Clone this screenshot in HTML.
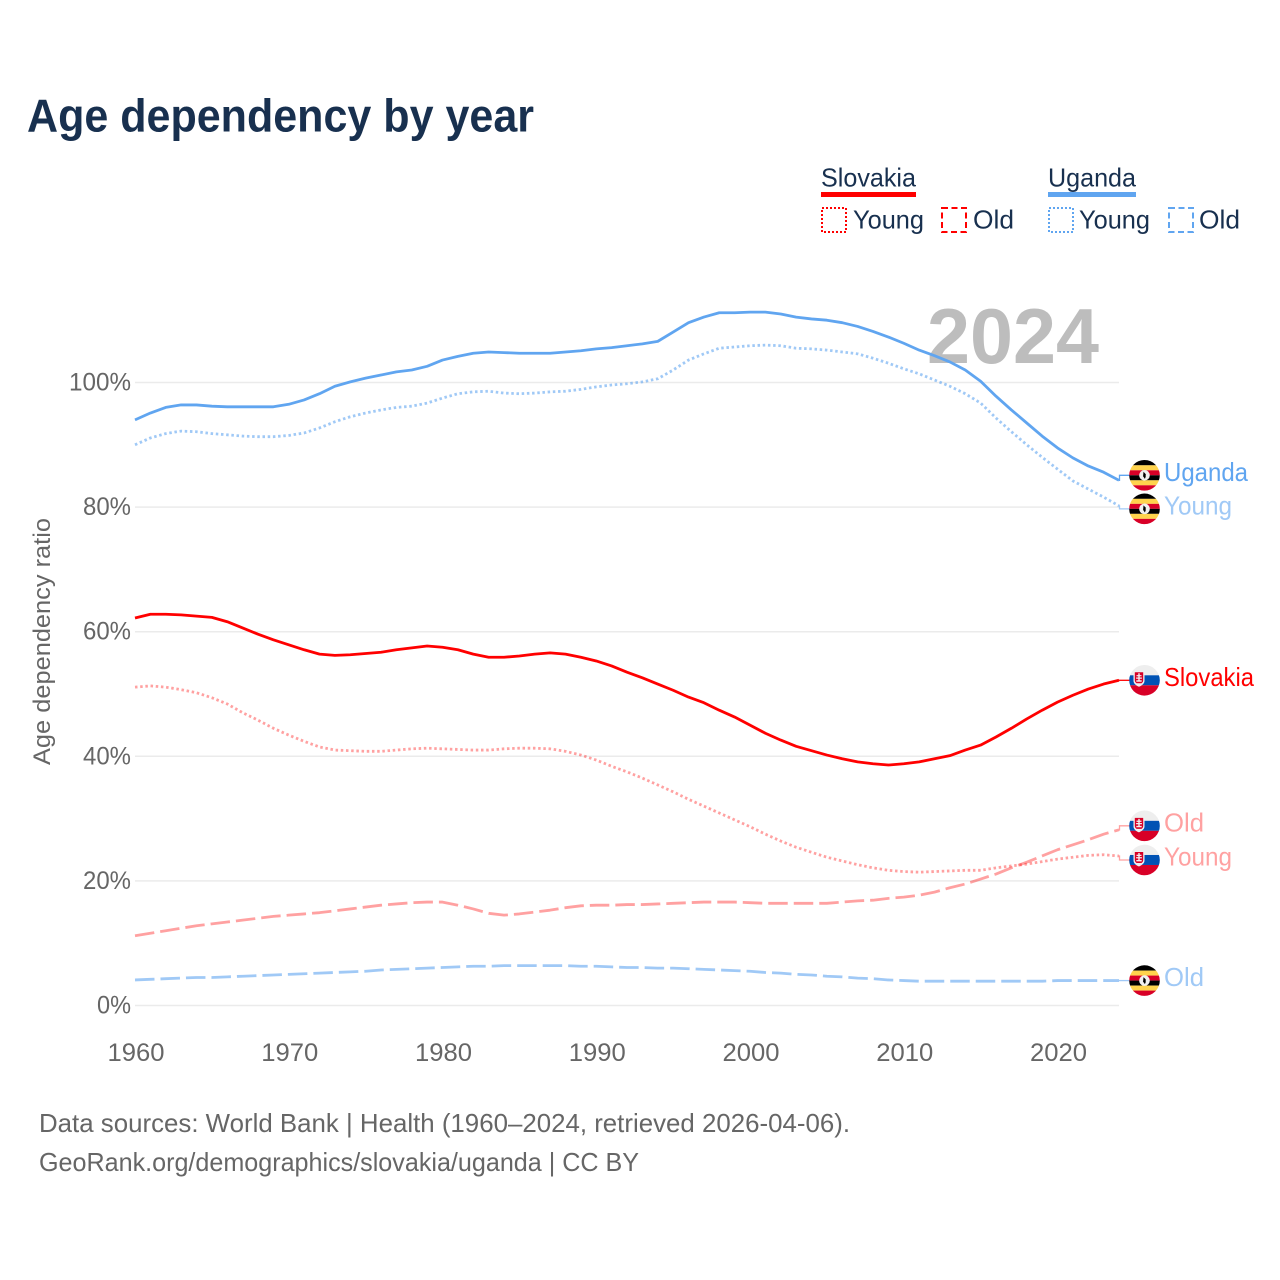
<!DOCTYPE html>
<html lang="en">
<head>
<meta charset="utf-8">
<title>Age dependency by year</title>
<style>
html,body{margin:0;padding:0;background:#fff;width:1280px;height:1280px;overflow:hidden}
svg{display:block}
text{font-family:"Liberation Sans",sans-serif}
</style>
</head>
<body>
<svg id="chart" xmlns="http://www.w3.org/2000/svg" width="1280" height="1280" viewBox="0 0 1280 1280">
  <defs>
    <clipPath id="flag-clip"><circle cx="0" cy="0" r="15.3"/></clipPath>
    <g id="flag-uganda">
      <g clip-path="url(#flag-clip)">
        <rect x="-16" y="-16" width="32" height="6" fill="#000"/>
        <rect x="-16" y="-10" width="32" height="5" fill="#ffd34d"/>
        <rect x="-16" y="-5" width="32" height="5" fill="#d80027"/>
        <rect x="-16" y="0" width="32" height="5" fill="#000"/>
        <rect x="-16" y="5" width="32" height="5" fill="#ffd34d"/>
        <rect x="-16" y="10" width="32" height="6" fill="#d80027"/>
        <circle cx="0" cy="0" r="5.3" fill="#f0f0f0"/>
        <path d="M-1 -3.5 L1.2 -1.2 L1.2 1.5 L0.4 3.6 L-1.4 1 Z" fill="#000"/>
      </g>
    </g>
    <g id="flag-slovakia">
      <g clip-path="url(#flag-clip)">
        <rect x="-16" y="-16" width="32" height="11" fill="#eeeeee"/>
        <rect x="-16" y="-5" width="32" height="10" fill="#0052b4"/>
        <rect x="-16" y="5" width="32" height="11" fill="#d80027"/>
        <path d="M-11 -9 H0 V0.5 C0 3.5 -3 5.5 -5.5 6.5 C-8 5.5 -11 3.5 -11 0.5 Z" fill="#f0f0f0"/>
        <path d="M-9.7 -8 H-1.3 V0 C-1.3 1.5 -2 2.2 -3 3 L-8 3 C-9 2.2 -9.7 1.5 -9.7 0 Z" fill="#d80027"/>
        <path d="M-6.2 -7 H-4.8 V-5.2 H-3 V-4 H-4.8 V-2.8 H-2.6 V-1.6 H-4.8 V0 H-2.8 V1.4 H-8.2 V0 H-6.2 V-1.6 H-8.4 V-2.8 H-6.2 V-4 H-8 V-5.2 H-6.2 Z" fill="#f0f0f0"/>
      </g>
    </g>
  </defs>

  <rect x="0" y="0" width="1280" height="1280" fill="#fff"/>

  <text x="27" y="131.5" font-size="46" font-weight="700" fill="#18304f" textLength="507" lengthAdjust="spacingAndGlyphs">Age dependency by year</text>

  <g font-size="26" fill="#18304f">
    <g>
      <text x="821" y="186.5" textLength="95" lengthAdjust="spacingAndGlyphs">Slovakia</text>
      <rect x="821" y="192" width="95" height="5" fill="#ff0000"/>
      <rect x="822" y="208" width="24" height="24" fill="none" stroke="#ff0000" stroke-width="2" stroke-dasharray="2 2"/>
      <text x="853" y="228.5" textLength="71" lengthAdjust="spacingAndGlyphs">Young</text>
      <rect x="942" y="208" width="24" height="24" fill="none" stroke="#ff0000" stroke-width="2" stroke-dasharray="6 3.5"/>
      <text x="973" y="228.5" textLength="41" lengthAdjust="spacingAndGlyphs">Old</text>
    </g>
    <g>
      <text x="1048" y="186.5" textLength="88" lengthAdjust="spacingAndGlyphs">Uganda</text>
      <rect x="1048" y="192" width="88" height="5" fill="#60a5f0"/>
      <rect x="1049" y="208" width="24" height="24" fill="none" stroke="#60a5f0" stroke-width="2" stroke-dasharray="2 2"/>
      <text x="1079" y="228.5" textLength="71" lengthAdjust="spacingAndGlyphs">Young</text>
      <rect x="1169" y="208" width="24" height="24" fill="none" stroke="#60a5f0" stroke-width="2" stroke-dasharray="6 3.5"/>
      <text x="1199" y="228.5" textLength="41" lengthAdjust="spacingAndGlyphs">Old</text>
    </g>
  </g>

  <g id="grid"></g>

  <text x="927" y="363" font-size="78" font-weight="700" fill="#bdbdbd" textLength="172" lengthAdjust="spacingAndGlyphs">2024</text>

  <text transform="translate(50 765) rotate(-90)" x="0" y="0" font-size="24" fill="#666666" textLength="247" lengthAdjust="spacingAndGlyphs">Age dependency ratio</text>

  <g id="y-ticks"></g>
  <g id="x-ticks"></g>
  <g id="series"></g>
  <g id="end-labels"></g>

  <g font-size="26" fill="#666666">
    <text x="39" y="1132" textLength="811" lengthAdjust="spacingAndGlyphs">Data sources: World Bank | Health (1960–2024, retrieved 2026-04-06).</text>
    <text x="39" y="1171" textLength="600" lengthAdjust="spacingAndGlyphs">GeoRank.org/demographics/slovakia/uganda | CC BY</text>
  </g>
</svg>

<script>
const firstYear = 1960;
const xTickYears = [1960, 1970, 1980, 1990, 2000, 2010, 2020];
const yTickValues = [0, 20, 40, 60, 80, 100];

const ugandaTotal = [
  94.0,95.1,96.0,96.4,96.4,96.2,96.1,96.1,96.1,96.1,
  96.5,97.2,98.2,99.4,100.1,100.7,101.2,101.7,102.0,102.6,
  103.6,104.2,104.7,104.9,104.8,104.7,104.7,104.7,104.9,105.1,
  105.4,105.6,105.9,106.2,106.6,108.1,109.6,110.5,111.2,111.2,
  111.3,111.3,111.0,110.5,110.2,110.0,109.6,109.0,108.2,107.3,
  106.3,105.2,104.3,103.3,102.0,100.2,97.8,95.6,93.5,91.4,
  89.5,87.9,86.6,85.6,84.3
];
const ugandaYoung = [
  90.0,91.1,91.8,92.2,92.1,91.8,91.6,91.4,91.3,91.3,
  91.5,91.9,92.7,93.7,94.5,95.1,95.6,96.0,96.2,96.7,
  97.5,98.2,98.5,98.6,98.3,98.2,98.3,98.5,98.6,98.9,
  99.3,99.6,99.8,100.1,100.6,102.0,103.6,104.6,105.5,105.7,
  105.9,106.0,105.9,105.5,105.4,105.2,104.9,104.6,103.9,103.1,
  102.2,101.4,100.4,99.4,98.2,96.7,94.3,92.1,90.0,88.0,
  86.1,84.2,82.9,81.6,80.2
];
const ugandaOld = [
  4.1,4.2,4.3,4.4,4.5,4.5,4.6,4.7,4.8,4.9,
  5.0,5.1,5.2,5.3,5.4,5.5,5.7,5.8,5.9,6.0,
  6.1,6.2,6.3,6.3,6.4,6.4,6.4,6.4,6.4,6.3,
  6.3,6.2,6.1,6.1,6.0,6.0,5.9,5.8,5.7,5.6,
  5.5,5.3,5.2,5.0,4.9,4.7,4.6,4.4,4.3,4.1,
  4.0,3.9,3.9,3.9,3.9,3.9,3.9,3.9,3.9,3.9,
  4.0,4.0,4.0,4.0,4.0
];
const slovakiaTotal = [
  62.2,62.8,62.8,62.7,62.5,62.3,61.6,60.6,59.6,58.7,
  57.9,57.1,56.4,56.2,56.3,56.5,56.7,57.1,57.4,57.7,
  57.5,57.1,56.4,55.9,55.9,56.1,56.4,56.6,56.4,55.9,
  55.3,54.5,53.5,52.6,51.6,50.6,49.5,48.6,47.4,46.3,
  45.0,43.7,42.6,41.6,40.9,40.2,39.6,39.1,38.8,38.6,
  38.8,39.1,39.6,40.1,41.0,41.8,43.1,44.5,46.0,47.4,
  48.7,49.8,50.8,51.6,52.2
];
const slovakiaYoung = [
  51.1,51.3,51.1,50.7,50.2,49.4,48.4,47.0,45.8,44.5,
  43.4,42.4,41.5,41.0,40.9,40.8,40.8,41.0,41.2,41.3,
  41.2,41.1,41.0,41.0,41.2,41.3,41.3,41.2,40.8,40.2,
  39.4,38.4,37.5,36.5,35.4,34.3,33.1,32.0,30.9,29.8,
  28.7,27.5,26.4,25.4,24.6,23.8,23.2,22.6,22.1,21.7,
  21.5,21.4,21.5,21.6,21.7,21.7,22.1,22.4,22.7,23.1,
  23.5,23.8,24.1,24.2,24.0
];
const slovakiaOld = [
  11.2,11.6,12.0,12.4,12.8,13.1,13.4,13.7,14.0,14.3,
  14.5,14.7,14.9,15.2,15.5,15.8,16.1,16.3,16.5,16.6,
  16.6,16.1,15.5,14.8,14.5,14.7,15.0,15.3,15.7,16.0,
  16.1,16.1,16.2,16.2,16.3,16.4,16.5,16.6,16.6,16.6,
  16.5,16.4,16.4,16.4,16.4,16.4,16.6,16.8,16.9,17.2,
  17.4,17.7,18.2,18.9,19.5,20.3,21.1,22.1,23.0,24.0,
  25.0,25.8,26.6,27.5,28.2
];

const NS = 'http://www.w3.org/2000/svg';
const xAt = year => 135 + (year - 1960) * 15.375;
const yAt = value => 1005.5 - value * 6.23;

function make(parent, tag, attrs, text) {
  const node = document.createElementNS(NS, tag);
  for (const key in attrs) node.setAttribute(key, attrs[key]);
  if (text !== undefined) node.textContent = text;
  parent.appendChild(node);
  return node;
}

const gridGroup = document.getElementById('grid');
const yTickGroup = document.getElementById('y-ticks');
yTickValues.forEach(v => {
  const line = make(gridGroup, 'line', {x1: 135, x2: 1119, y1: yAt(v), y2: yAt(v), stroke: '#ebebeb', 'stroke-width': 1.5});
  
  
  const label = v + '%';
  const t = make(yTickGroup, 'text', {x: 131, y: yAt(v) + 8, 'text-anchor': 'end', 'font-size': 25, fill: '#666666', textLength: 14 * String(v).length + 20, lengthAdjust: 'spacingAndGlyphs'}, label);
  
  
});

const xTickGroup = document.getElementById('x-ticks');
xTickYears.forEach(year => {
  const t = make(xTickGroup, 'text', {x: xAt(year) + 1, y: 1061, 'text-anchor': 'middle', 'font-size': 25, fill: '#666666', textLength: 57, lengthAdjust: 'spacingAndGlyphs'}, String(year));
  
  
});

const seriesList = [
  {key: 'uganda-old', values: ugandaOld, color: '#60a5f0', opacity: 0.6, dash: '19.5 6', width: 2.8, label: 'Old', flag: 'flag-uganda', nudge: 0, textWidth: 40},
  {key: 'slovakia-old', values: slovakiaOld, color: '#ff0000', opacity: 0.37, dash: '19.5 6', width: 2.8, label: 'Old', flag: 'flag-slovakia', nudge: -4, textWidth: 40},
  {key: 'slovakia-young', values: slovakiaYoung, color: '#ff0000', opacity: 0.37, dash: '2.5 2.7', width: 2.8, label: 'Young', flag: 'flag-slovakia', nudge: 4, textWidth: 68},
  {key: 'uganda-young', values: ugandaYoung, color: '#60a5f0', opacity: 0.6, dash: '2.5 2.7', width: 2.8, label: 'Young', flag: 'flag-uganda', nudge: 3, textWidth: 68},
  {key: 'slovakia-total', values: slovakiaTotal, color: '#ff0000', opacity: 1, dash: '', width: 2.8, label: 'Slovakia', flag: 'flag-slovakia', nudge: 0, textWidth: 90},
  {key: 'uganda-total', values: ugandaTotal, color: '#60a5f0', opacity: 1, dash: '', width: 2.8, label: 'Uganda', flag: 'flag-uganda', nudge: -5, textWidth: 84}
];

const seriesGroup = document.getElementById('series');
const endGroup = document.getElementById('end-labels');
seriesList.forEach(s => {
  const pts = s.values.map((v, i) => xAt(firstYear + i).toFixed(2) + ',' + yAt(v).toFixed(2)).join(' ');
  const attrs = {points: pts, fill: 'none', stroke: s.color, 'stroke-opacity': s.opacity, 'stroke-width': s.width, 'stroke-linejoin': 'round'};
  if (s.dash) attrs['stroke-dasharray'] = s.dash;
  const line = make(seriesGroup, 'polyline', attrs);
  
  

  const lastYear = firstYear + s.values.length - 1;
  const endY = yAt(s.values[s.values.length - 1]);
  const labelY = endY + s.nudge;
  const leaderPath = 'M' + xAt(lastYear) + ' ' + endY + ' H1119.5 V' + labelY + ' H1130';
  const leader = make(endGroup, 'path', {d: leaderPath, fill: 'none', stroke: s.color, 'stroke-opacity': s.opacity, 'stroke-width': 1.3});
  
  

  const flag = make(endGroup, 'use', {href: '#' + s.flag, transform: 'translate(1144.5 ' + labelY + ')'});
  
  

  const label = make(endGroup, 'text', {x: 1164, y: labelY + 5.5, 'font-size': 26, fill: s.color, 'fill-opacity': s.opacity, textLength: s.textWidth, lengthAdjust: 'spacingAndGlyphs'}, s.label);
  
  
});
</script>
</body>
</html>
